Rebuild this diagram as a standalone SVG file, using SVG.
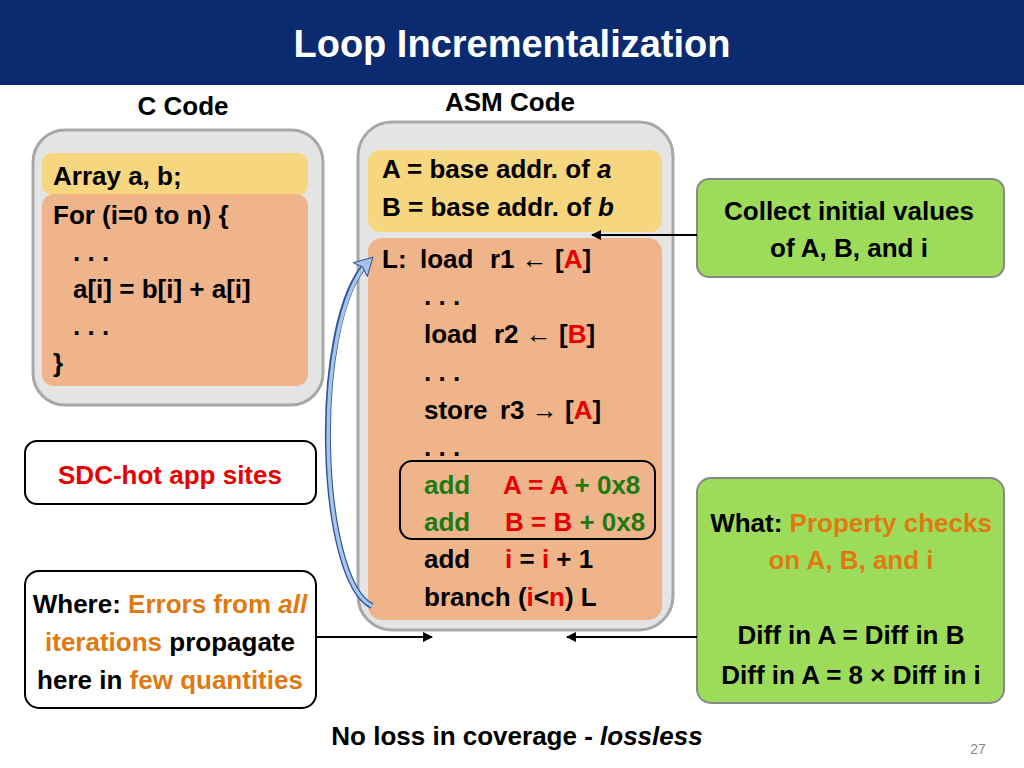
<svg xmlns="http://www.w3.org/2000/svg" width="1024" height="768" viewBox="0 0 1024 768">
<style>
text{font-family:"Liberation Sans Narrow","Arial Narrow","Liberation Sans",sans-serif;font-weight:bold;font-size:26px;fill:#000}
.r{fill:#e60000}.g{fill:#1e7a12}.o{fill:#e07a10}
.outer{fill:#e4e4e4;stroke:#a8a8a8;stroke-width:3}
.y{fill:#f6d67e}.or{fill:#f0b48b}
.gr{fill:#9ddc5a;stroke:#888;stroke-width:2}
.wb{fill:#fff;stroke:#000;stroke-width:2}
</style>
<defs>
<marker id="ah" markerWidth="10" markerHeight="10" refX="9" refY="5" orient="auto" markerUnits="userSpaceOnUse"><path d="M0,0L10,5L0,10z" fill="#000"/></marker>
<marker id="bh" markerWidth="20" markerHeight="20" refX="14" refY="10" orient="auto" markerUnits="userSpaceOnUse"><path d="M0,0L18,10L0,20L4,10z" fill="#a9c4ea" stroke="#2f5597" stroke-width="1"/></marker>
</defs>
<rect x="0" y="0" width="1024" height="85" fill="#0a2b6f"/>
<text x="512" y="57" text-anchor="middle" style="fill:#fff;font-family:'Liberation Sans',sans-serif;font-size:38px">Loop Incrementalization</text>
<text x="183" y="115" text-anchor="middle">C Code</text>
<text x="510" y="111" text-anchor="middle">ASM Code</text>
<g id="ccode">
<rect class="outer" x="33" y="130" width="290" height="275" rx="32"/>
<rect class="y" x="42" y="153" width="266" height="42" rx="10"/>
<rect class="or" x="42" y="194" width="266" height="192" rx="12"/>
<text x="53" y="185">Array a, b;</text>
<text x="53" y="224">For (i=0 to n) {</text>
<text x="73" y="261">. . .</text>
<text x="73" y="298">a[i] = b[i] + a[i]</text>
<text x="73" y="335">. . .</text>
<text x="53" y="372">}</text>
</g>
<g id="asm">
<rect class="outer" x="358" y="122" width="315" height="508" rx="34"/>
<rect class="y" x="368" y="150" width="294" height="82" rx="12"/>
<rect class="or" x="368" y="238" width="294" height="382" rx="14"/>
<text x="382" y="178">A = base addr. of <tspan font-style="italic">a</tspan></text>
<text x="382" y="216">B = base addr. of <tspan font-style="italic">b</tspan></text>
<text x="382" y="268">L:<tspan x="420">load</tspan><tspan x="490">r1 ← [<tspan class="r">A</tspan>]</tspan></text>
<text x="424" y="305">. . .</text>
<text x="424" y="343">load<tspan x="494">r2 ← [<tspan class="r">B</tspan>]</tspan></text>
<text x="424" y="381">. . .</text>
<text x="424" y="419">store<tspan x="500">r3 → [<tspan class="r">A</tspan>]</tspan></text>
<text x="424" y="456">. . .</text>
<text x="424" y="494" class="g">add</text><text x="503" y="494"><tspan class="r">A = A</tspan><tspan class="g"> + 0x8</tspan></text>
<text x="424" y="531" class="g">add</text><text x="505" y="531"><tspan class="r">B = B</tspan><tspan class="g"> + 0x8</tspan></text>
<text x="424" y="568">add</text><text x="505" y="568"><tspan class="r">i</tspan> = <tspan class="r">i</tspan> + 1</text>
<text x="424" y="606">branch (<tspan class="r">i</tspan>&lt;<tspan class="r">n</tspan>) L</text>
<rect x="400" y="461" width="255" height="78" rx="12" fill="none" stroke="#000" stroke-width="2"/>
</g>
<g id="collect">
<rect class="gr" x="697" y="179" width="307" height="98" rx="12"/>
<text x="849" y="220" text-anchor="middle">Collect initial values</text>
<text x="849" y="257" text-anchor="middle">of A, B, and i</text>
</g>
<g id="what">
<rect class="gr" x="697" y="478" width="307" height="225" rx="14"/>
<text x="851" y="532" text-anchor="middle">What: <tspan class="o">Property checks</tspan></text>
<text x="851" y="569" text-anchor="middle" class="o">on A, B, and i</text>
<text x="851" y="644" text-anchor="middle">Diff in A = Diff in B</text>
<text x="851" y="684" text-anchor="middle">Diff in A = 8 × Diff in i</text>
</g>
<g id="sdc">
<rect class="wb" x="25" y="441" width="291" height="63" rx="12"/>
<text x="170" y="484" text-anchor="middle" class="r">SDC-hot app sites</text>
</g>
<g id="where">
<rect class="wb" x="25" y="571" width="291" height="137" rx="14"/>
<text x="170" y="613" text-anchor="middle">Where: <tspan class="o">Errors from <tspan font-style="italic">all</tspan></tspan></text>
<text x="170" y="651" text-anchor="middle"><tspan class="o">iterations</tspan> propagate</text>
<text x="170" y="689" text-anchor="middle">here in <tspan class="o">few quantities</tspan></text>
</g>
<g id="connectors" fill="none" stroke="#000" stroke-width="2">
<line x1="697" y1="235" x2="592" y2="235" marker-end="url(#ah)"/>
<line x1="316" y1="637" x2="432" y2="637" marker-end="url(#ah)"/>
<line x1="697" y1="637" x2="567" y2="637" marker-end="url(#ah)"/>
<path d="M372,606 C318,580 310,320 368,262" stroke="#2f5597" stroke-width="6"/>
<path d="M372,606 C318,580 310,320 370,260" stroke="#a9c4ea" stroke-width="3.5" marker-end="url(#bh)"/>
</g>
<text x="517" y="745" text-anchor="middle">No loss in coverage - <tspan font-style="italic">lossless</tspan></text>
<text x="978" y="754" text-anchor="middle" style="font-family:'Liberation Sans',sans-serif;font-weight:normal;font-size:14px;fill:#888">27</text>
</svg>
